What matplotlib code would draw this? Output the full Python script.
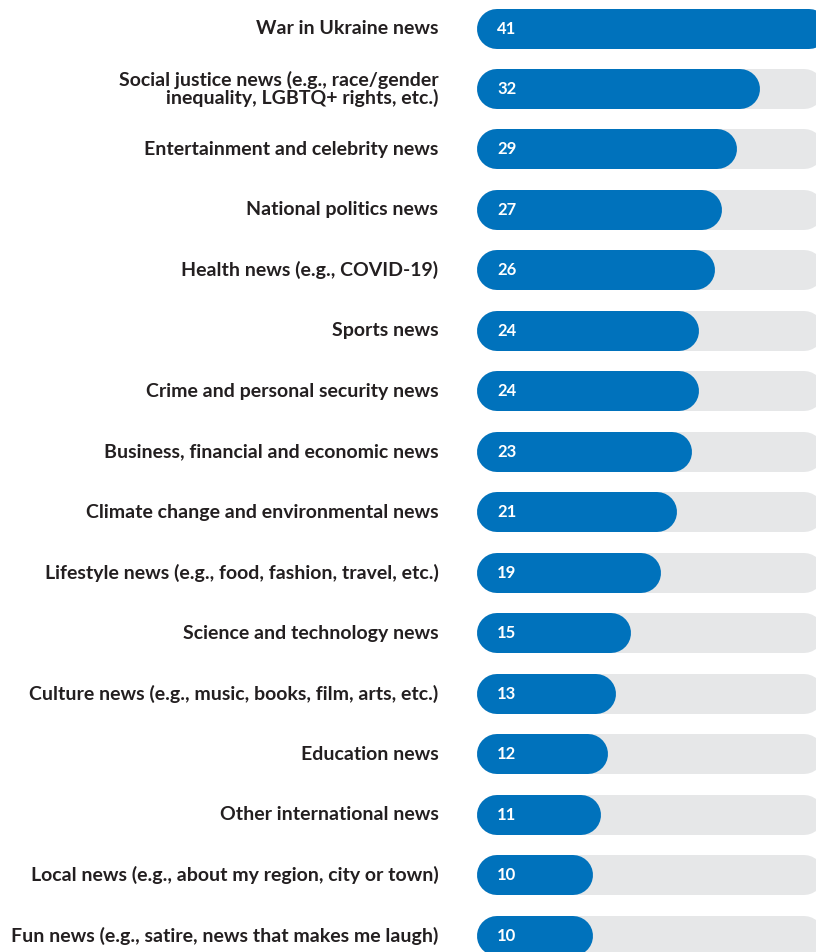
import matplotlib
matplotlib.use("Agg")
import matplotlib.pyplot as plt
from matplotlib.transforms import blended_transform_factory

categories = [
    "War in Ukraine news",
    "Social justice news (e.g., race/gender\ninequality, LGBTQ+ rights, etc.)",
    "Entertainment and celebrity news",
    "National politics news",
    "Health news (e.g., COVID-19)",
    "Sports news",
    "Crime and personal security news",
    "Business, financial and economic news",
    "Climate change and environmental news",
    "Lifestyle news (e.g., food, fashion, travel, etc.)",
    "Science and technology news",
    "Culture news (e.g., music, books, film, arts, etc.)",
    "Education news",
    "Other international news",
    "Local news (e.g., about my region, city or town)",
    "Fun news (e.g., satire, news that makes me laugh)",
]
values = [41, 32, 29, 27, 26, 24, 24, 23, 21, 19, 15, 13, 12, 11, 10, 10]

BLUE = "#0072BC"
TRACK = "#E6E7E8"
TEXT = "#231F20"

W, H, DPI = 816, 952, 100
fig = plt.figure(figsize=(W / DPI, H / DPI), dpi=DPI)
fig.patch.set_facecolor("white")

px_per_unit = 7.6
zero_px = 517.0
ax_left_px = 477.0
bar_h_px = 40.0
row0_px = 28.5
row_step_px = 60.47

ax = fig.add_axes([ax_left_px / W, 0, (W - ax_left_px) / W, 1])
ax.set_xlim((ax_left_px - zero_px) / px_per_unit, (W - zero_px) / px_per_unit)
ax.set_ylim((H - row0_px) / row_step_px, -row0_px / row_step_px)
ax.axis("off")

r_units = (bar_h_px / 2) / px_per_unit
lw = bar_h_px * 72 / DPI
x_left = (ax_left_px - zero_px) / px_per_unit
x_right_axis = (W - zero_px) / px_per_unit

label_tr = blended_transform_factory(fig.transFigure, ax.transData)

for i, (cat, v) in enumerate(zip(categories, values)):
    # track
    ax.plot([x_left + r_units, x_right_axis - r_units * 0.6], [i, i], color=TRACK,
            lw=lw, solid_capstyle="round", zorder=1, clip_on=True)
    # bar
    ax.plot([x_left + r_units, v - r_units], [i, i], color=BLUE,
            lw=lw, solid_capstyle="round", zorder=2, clip_on=True)
    ax.text(x_left + r_units, i, str(v), color="white", fontsize=12,
            fontweight="bold", va="center", ha="left", family="Lato", zorder=3)
    ax.text(438.5 / W, i, cat, transform=label_tr, ha="right", va="center",
            multialignment="right", color=TEXT, fontsize=14, fontweight="bold",
            family="Lato", linespacing=0.95)

fig.savefig("out.png", dpi=DPI, facecolor="white")
